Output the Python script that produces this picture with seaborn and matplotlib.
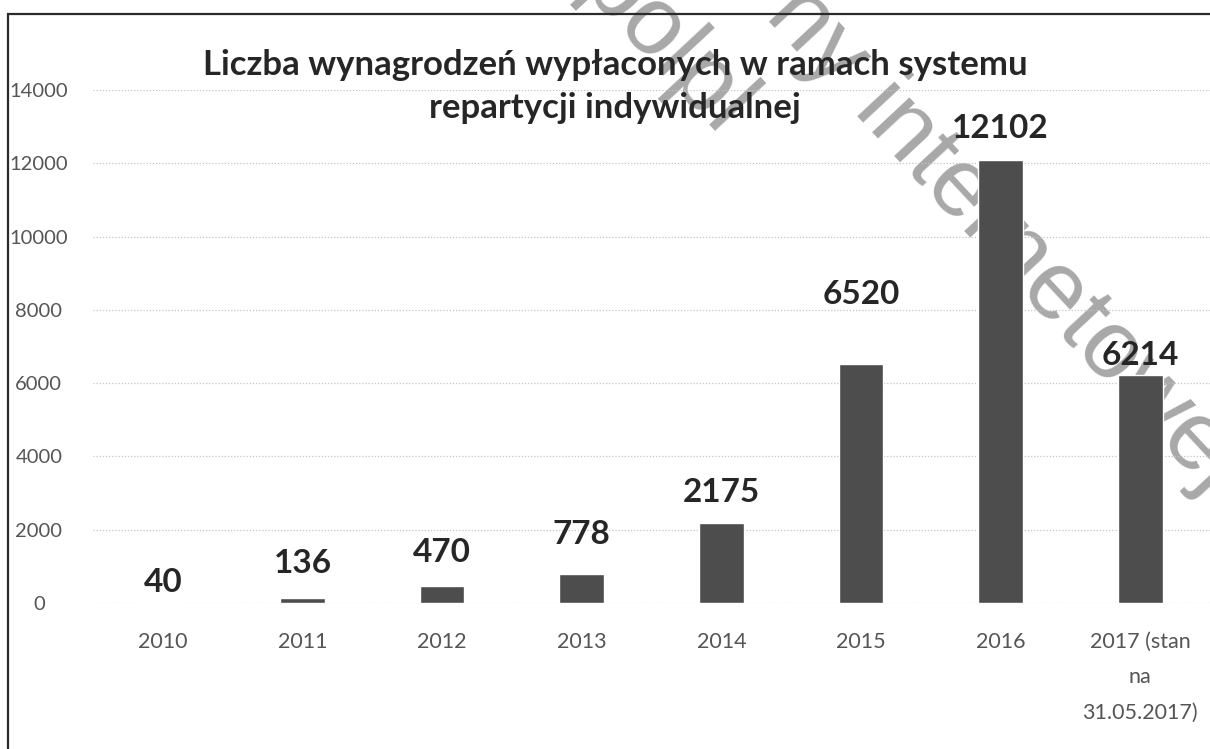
import numpy as np
import pandas as pd
import matplotlib
matplotlib.use("Agg")
import matplotlib.pyplot as plt
import seaborn as sns
from matplotlib.patches import Rectangle

# dane
years = ["2010", "2011", "2012", "2013", "2014", "2015", "2016",
         "2017 (stan\nna\n31.05.2017)"]
payouts = [40, 136, 470, 778, 2175, 6520, 12102, 6214]
y_ticks = [0, 2000, 4000, 6000, 8000, 10000, 12000, 14000]
title = "Liczba wynagrodzeń wypłaconych w ramach systemu\nrepartycji indywidualnej"

# przesunięcia etykiet nad słupkami (pt)
label_offsets = [14, 25, 24, 29, 22, 50, 22, 14]

sns.set_style("white")
plt.rcParams["font.family"] = ["Lato", "DejaVu Sans"]

df = pd.DataFrame({"rok": years, "liczba": payouts})

fig = plt.figure(figsize=(12.1, 7.49), dpi=100)
ax = fig.add_axes([93 / 1210, 1 - 603 / 749, 1 - 93 / 1210, (603 - 90) / 749])
ax.patch.set_facecolor("none")

sns.barplot(data=df, x="rok", y="liczba", order=years, color="#4d4d4d",
            saturation=1, width=0.32, ax=ax, zorder=3)

ax.set_ylim(0, 14000)
ax.set_xlim(-0.5, len(years) - 0.5)
ax.set_yticks(y_ticks)
ax.set_yticklabels([str(t) for t in y_ticks])
ax.set_xlabel("")
ax.set_ylabel("")
ax.tick_params(axis="y", length=0, pad=39, labelsize=14.5, labelcolor="#555555")
ax.tick_params(axis="x", length=0, pad=21, labelsize=15.5, labelcolor="#555555")
for lab in ax.get_yticklabels():
    lab.set_horizontalalignment("center")
for lab in ax.get_xticklabels():
    lab.set_linespacing(1.95)
    lab.set_verticalalignment("top")

ax.grid(axis="y", color="#c4c4c4", linestyle=(0, (1, 1.5)), linewidth=0.9, zorder=0)
ax.grid(axis="x", visible=False)
for s in ax.spines.values():
    s.set_visible(False)

for i, (v, off) in enumerate(zip(payouts, label_offsets)):
    ax.annotate(str(v), (i, v), xytext=(0, off), textcoords="offset points",
                ha="center", va="center", fontsize=24, fontweight="bold",
                color="#262626")

fig.text(615 / 1210, 1 - 86.5 / 749, title, ha="center", va="center",
         fontsize=25, fontweight="bold", color="#262626", linespacing=1.39)

# ramka wykresu
fig.patches.append(Rectangle((8 / 1210, -0.1), 1.2, 1.1 - 14 / 749,
                             transform=fig.transFigure, fill=False,
                             edgecolor="#2a2a2a", linewidth=1.6, zorder=0))

# znak wodny
wm = dict(ha="center", va="center", color="#a8a8a8", family="Liberation Sans",
          zorder=-1, rotation_mode="anchor", rotation=-47, fontsize=70)
fig.text(666 / 1210, 1 - 48 / 749, "polpl", **wm)
fig.text(1005 / 1210, 1 - 239 / 749, "ny internetowej", **wm)

fig.savefig("out.png", dpi=100)
